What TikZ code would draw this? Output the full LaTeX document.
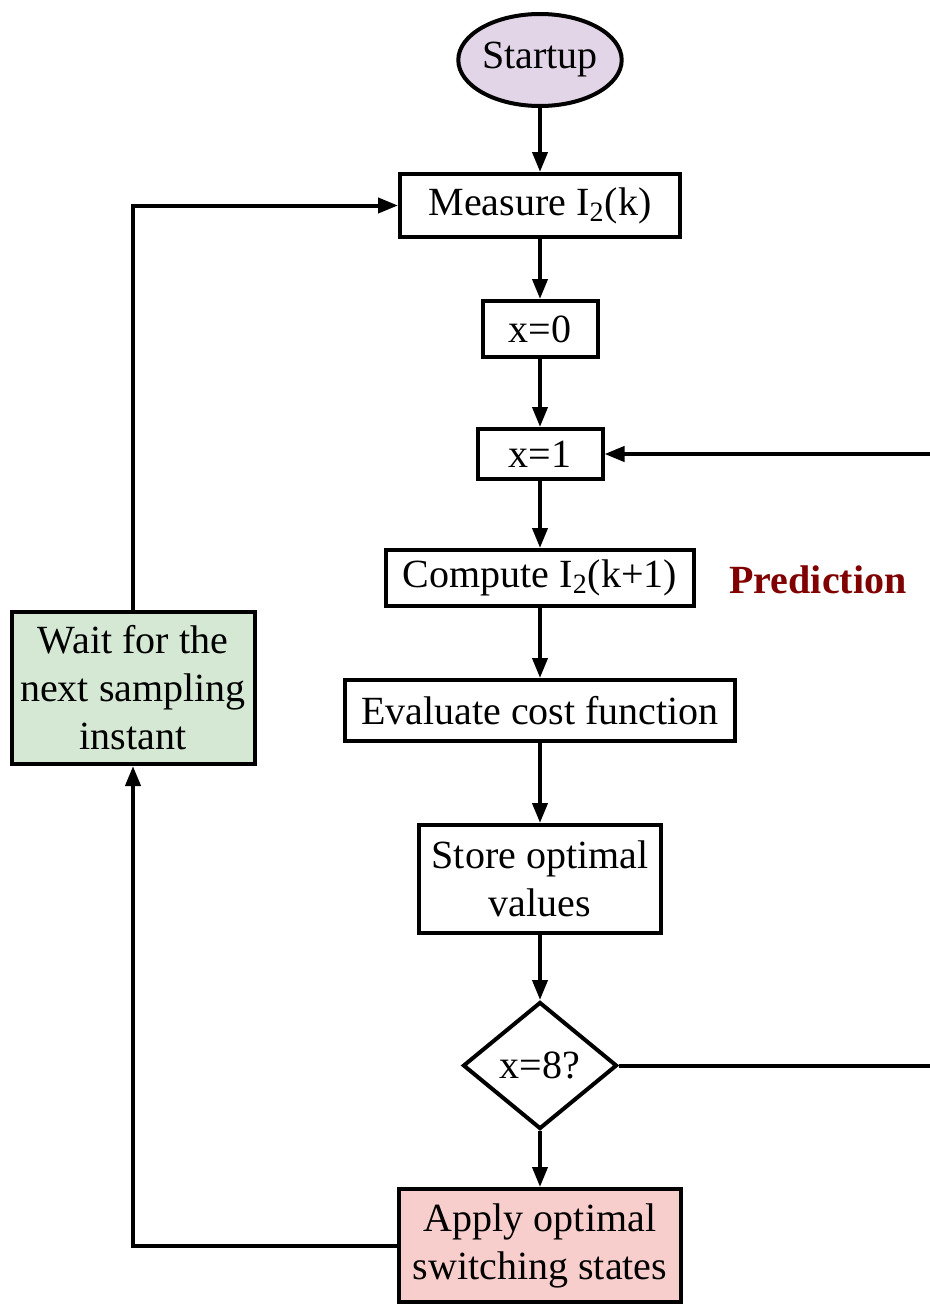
\documentclass[tikz,border=0pt]{standalone}
\usepackage{fontspec}
\setmainfont{Liberation Serif}
\usepackage{xcolor}
\usepackage{tikz}
\usetikzlibrary{arrows.meta,positioning,shapes.geometric}
\definecolor{startfill}{HTML}{E1D5E7}
\definecolor{waitfill}{HTML}{D5E8D4}
\definecolor{applyfill}{HTML}{F8CECC}
\definecolor{predred}{HTML}{800000}

\begin{document}
\begin{tikzpicture}[
    x=0.5pt, y=-0.5pt,
    font=\fontsize{20}{24}\selectfont,
    line width=2pt,
    box/.style={draw, align=center, inner sep=0pt},
    term/.style={draw, ellipse, fill=startfill, inner sep=0pt,
      minimum width=74pt, minimum height=46pt},
    decide/.style={draw, diamond, inner sep=0pt, minimum width=77pt,
      minimum height=63.5pt},
    arr/.style={-{Triangle[length=10pt, width=7.5pt]}},
  ]
    \useasboundingbox (0,0) rectangle (930,1306);

    \node[term] (start) at (540,60) {Startup};
    \node[box, minimum width=140pt, minimum height=31.5pt, below=32pt of start]
      (meas) {Measure I\textsubscript{2}(k)};
    \node[box, minimum width=57.5pt, minimum height=28pt, below=30pt of meas]
      (xzero) {x=0};
    \node[box, minimum width=62.5pt, minimum height=25pt, below=34pt of xzero]
      (xone) {x=1};
    \node[box, minimum width=154pt, minimum height=28pt, below=33.5pt of xone]
      (pred) {Compute I\textsubscript{2}(k+1)};
    \node[font=\fontsize{20}{24}\selectfont\bfseries, text=predred, anchor=center]
      (predlbl) at (818,580) {Prediction};
    \node[box, minimum width=195pt, minimum height=30.5pt, below=35pt of pred]
      (cost) {Evaluate cost function};
    \node[box, minimum width=121pt, minimum height=54pt, below=40pt of cost]
      (store) {Store optimal\\values};
    \node[decide, below=32.5pt of store] (check) {x=8?};
    \node[box, fill=applyfill, minimum width=141pt, minimum height=56.5pt,
      below=28pt of check] (apply) {Apply optimal\\switching states};
    \node[box, fill=waitfill, minimum width=121.5pt, minimum height=76pt]
      (wait) at (133,688) {Wait for the\\next sampling\\instant};

    % loop back from the decision, running off the right edge
    \coordinate (rim) at (930,0);
    \coordinate (outB) at (check.east -| rim);
    \coordinate (outA) at (xone.east -| rim);

    \draw[arr] (start) -- (meas);
    \draw[arr] (meas) -- (xzero);
    \draw[arr] (xzero) -- (xone);
    \draw[arr] (xone) -- (pred);
    \draw[arr] (pred) -- (cost);
    \draw[arr] (cost) -- (store);
    \draw[arr] (store) -- (check);
    \draw[arr] (check) -- (apply);
    \draw (check.east) -- (outB);
    \draw[arr] (outA) -- (xone.east);
    \draw[arr] (apply.west) -| (wait.south);
    \draw[arr] (wait.north) |- (meas.west);
  \end{tikzpicture}
\end{document}
